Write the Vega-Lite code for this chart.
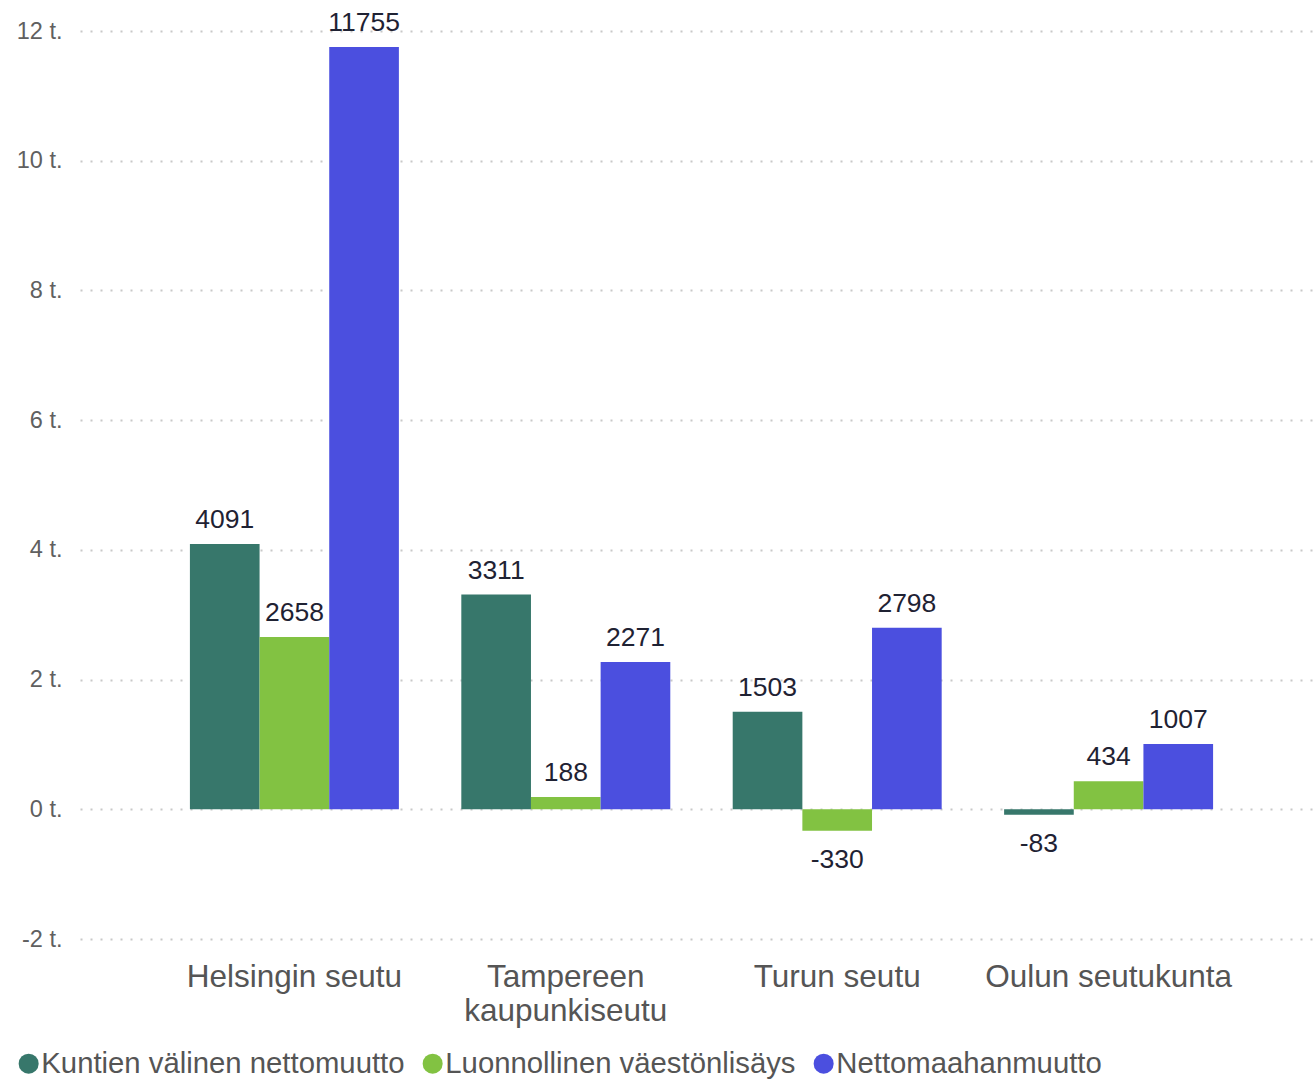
{
  "$schema": "https://vega.github.io/schema/vega-lite/v6.json",
  "width": 1243,
  "height": 908,
  "autosize": {"type": "none"},
  "padding": {"left": 80, "top": 31, "right": 0, "bottom": 140},
  "background": "white",
  "config": {
    "view": {"stroke": null},
    "font": "Liberation Sans"
  },
  "data": {
    "values": [
      {"alue": "Helsingin seutu", "sarja": "Kuntien välinen nettomuutto", "arvo": 4091},
      {"alue": "Helsingin seutu", "sarja": "Luonnollinen väestönlisäys", "arvo": 2658},
      {"alue": "Helsingin seutu", "sarja": "Nettomaahanmuutto", "arvo": 11755},
      {"alue": "Tampereen kaupunkiseutu", "sarja": "Kuntien välinen nettomuutto", "arvo": 3311},
      {"alue": "Tampereen kaupunkiseutu", "sarja": "Luonnollinen väestönlisäys", "arvo": 188},
      {"alue": "Tampereen kaupunkiseutu", "sarja": "Nettomaahanmuutto", "arvo": 2271},
      {"alue": "Turun seutu", "sarja": "Kuntien välinen nettomuutto", "arvo": 1503},
      {"alue": "Turun seutu", "sarja": "Luonnollinen väestönlisäys", "arvo": -330},
      {"alue": "Turun seutu", "sarja": "Nettomaahanmuutto", "arvo": 2798},
      {"alue": "Oulun seutukunta", "sarja": "Kuntien välinen nettomuutto", "arvo": -83},
      {"alue": "Oulun seutukunta", "sarja": "Luonnollinen väestönlisäys", "arvo": 434},
      {"alue": "Oulun seutukunta", "sarja": "Nettomaahanmuutto", "arvo": 1007}
    ]
  },
  "encoding": {
    "x": {
      "field": "alue",
      "type": "nominal",
      "sort": null,
      "scale": {"paddingInner": 0.23, "paddingOuter": 0.405},
      "axis": {
        "title": null,
        "domain": false,
        "ticks": false,
        "labelAngle": 0,
        "labelFontSize": 31.5,
        "labelColor": "#555555",
        "labelPadding": 22,
        "labelLineHeight": 34,
        "labelLimit": 500,
        "labelOverlap": false,
        "labelBound": false,
        "labelExpr": "datum.label == 'Tampereen kaupunkiseutu' ? ['Tampereen', 'kaupunkiseutu'] : datum.label"
      }
    },
    "xOffset": {"field": "sarja", "type": "nominal", "sort": null},
    "y": {
      "field": "arvo",
      "type": "quantitative",
      "scale": {"domain": [-2000, 12000], "nice": false},
      "axis": {
        "title": null,
        "values": [-2000, 0, 2000, 4000, 6000, 8000, 10000, 12000],
        "domain": false,
        "ticks": false,
        "labelFontSize": 23.5,
        "labelColor": "#606060",
        "labelPadding": 18,
        "labelExpr": "(datum.value / 1000) + ' t.'",
        "gridColor": "#c8c8c8",
        "gridDash": [2, 8],
        "gridWidth": 2
      }
    }
  },
  "layer": [
    {
      "mark": {"type": "bar"},
      "encoding": {
        "color": {
          "field": "sarja",
          "type": "nominal",
          "sort": null,
          "scale": {
            "domain": ["Kuntien välinen nettomuutto", "Luonnollinen väestönlisäys", "Nettomaahanmuutto"],
            "range": ["#37776B", "#82C242", "#4B4FDF"]
          },
          "legend": {
            "title": null,
            "orient": "none",
            "direction": "horizontal",
            "legendX": -66,
            "legendY": 1018,
            "symbolType": "circle",
            "symbolSize": 400,
            "symbolStrokeWidth": 0,
            "symbolOpacity": 1,
            "labelFontSize": 29.3,
            "labelColor": "#555555",
            "labelOffset": -2,
            "labelLimit": 600,
            "columnPadding": 13
          }
        }
      }
    },
    {
      "transform": [{"filter": "datum.arvo >= 0"}],
      "mark": {"type": "text", "baseline": "alphabetic", "dy": -16, "fontSize": 26.5, "color": "#1f2233"},
      "encoding": {"text": {"field": "arvo", "type": "nominal"}}
    },
    {
      "transform": [{"filter": "datum.arvo < 0"}],
      "mark": {"type": "text", "baseline": "top", "dy": 16, "fontSize": 26.5, "color": "#1f2233"},
      "encoding": {"text": {"field": "arvo", "type": "nominal"}}
    }
  ]
}
